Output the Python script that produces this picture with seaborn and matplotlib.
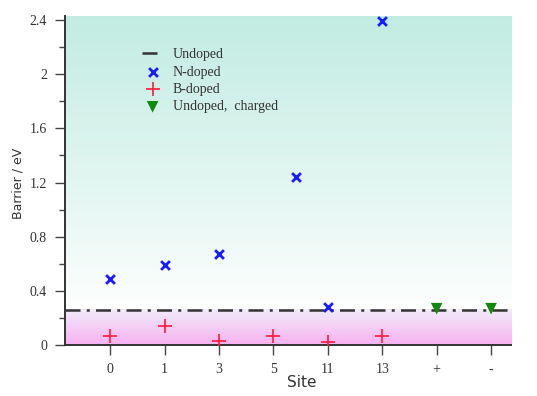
import numpy as np
import pandas as pd
import matplotlib
matplotlib.use("Agg")
import matplotlib.pyplot as plt
from matplotlib.colors import LinearSegmentedColormap
import seaborn as sns

# Datos
sites = ["0", "1", "3", "5", "11", "13", "+", "-"]
n_pos = [0, 1, 2, 3.42, 4, 5]
n_barrier = [0.49, 0.59, 0.67, 1.245, 0.285, 2.39]
b_pos = [0, 1, 2, 3, 4, 5]
b_barrier = [0.07, 0.14, 0.035, 0.065, 0.025, 0.065]
c_pos = [6, 7]
c_barrier = [0.27, 0.27]
undoped_barrier = 0.26

sns.set_style("ticks")
plt.rcParams["font.family"] = ["DejaVu Sans"]

fig, ax = plt.subplots(figsize=(5.37, 3.96), dpi=100)
fig.subplots_adjust(left=0.121, right=0.952, top=0.96, bottom=0.128)

xlim = (-0.83, 7.37)
ylim = (0, 2.43)

# Fondo degradado: turquesa arriba, rosa debajo de la línea
grad_top = LinearSegmentedColormap.from_list("top", ["#ffffff", "#c2ece2"])
grad_bot = LinearSegmentedColormap.from_list("bot", ["#f7b2ef", "#f1ecfb"])
g1 = np.linspace(0, 1, 256).reshape(-1, 1) ** 0.9
ax.imshow(g1, extent=(xlim[0], xlim[1], undoped_barrier, ylim[1]), origin="lower",
          cmap=grad_top, aspect="auto", zorder=0)
g2 = np.linspace(0, 1, 64).reshape(-1, 1)
ax.imshow(g2, extent=(xlim[0], xlim[1], 0, undoped_barrier), origin="lower",
          cmap=grad_bot, aspect="auto", zorder=0)

ax.axhline(undoped_barrier, color="#333333", lw=1.8, ls=(0, (6, 2.5, 1.2, 2.5)),
           label="Undoped", zorder=2)
sns.scatterplot(x=n_pos, y=n_barrier, ax=ax, marker="x", color="#1a1aff", s=40,
                linewidth=2, label="N-doped", zorder=3)
sns.scatterplot(x=b_pos, y=b_barrier, ax=ax, marker="+", color="#ff1a3c", s=110,
                linewidth=1.2, label="B-doped", zorder=3)
sns.scatterplot(x=c_pos, y=c_barrier, ax=ax, marker="v", color="#0f8a0f", s=70,
                edgecolor="none", label="Undoped,  charged", zorder=3)

ax.set_xlim(*xlim)
ax.set_ylim(*ylim)
ax.set_xticks(range(len(sites)))
ax.set_xticklabels(sites)
ax.set_yticks([0, 0.4, 0.8, 1.2, 1.6, 2.0, 2.4])
ax.set_yticklabels(["0", "0.4", "0.8", "1.2", "1.6", "2", "2.4"])
ax.set_yticks(np.arange(0.2, 2.4, 0.4), minor=True)
serif = ["Liberation Serif", "DejaVu Serif"]
for lab in ax.get_xticklabels() + ax.get_yticklabels():
    lab.set_family(serif)
    lab.set_fontsize(10)
    lab.set_color("#333333")
ax.tick_params(axis="both", which="major", length=7, width=1, color="#444444", pad=6)
ax.tick_params(axis="y", which="minor", length=4, width=1, color="#444444")

sns.despine(ax=ax)
for sp in ["left", "bottom"]:
    ax.spines[sp].set_color("#333333")
    ax.spines[sp].set_linewidth(1.4)

ax.set_xlabel("Site", fontsize=11, color="#333333")
ax.xaxis.set_label_coords(0.53, -0.09)
ax.set_ylabel("Barrier / eV", fontsize=9, color="#333333")
ax.yaxis.set_label_coords(-0.09, 0.49)

leg = ax.legend(loc="upper left", bbox_to_anchor=(0.145, 0.94), frameon=False,
                prop={"family": serif, "size": 10}, handlelength=1.5,
                handletextpad=0.7, labelspacing=0.32)
for t in leg.get_texts():
    t.set_color("#333333")

fig.savefig("out.png", dpi=100)
